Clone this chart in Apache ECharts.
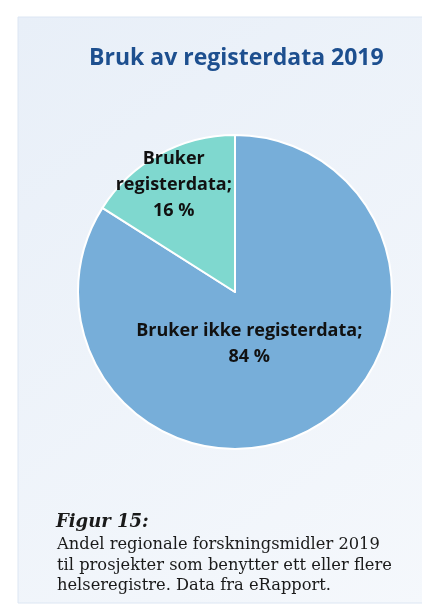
<!DOCTYPE html>
<html>
<head>
<meta charset="utf-8">
<script src="https://cdn.jsdelivr.net/npm/echarts@6/dist/echarts.min.js"></script>
<style>
  html, body { margin: 0; padding: 0; background: #fff; }
  #chart { width: 422px; height: 609px; }
</style>
</head>
<body>
<div id="chart"></div>
<script>
// data
const categories = ['Bruker ikke registerdata', 'Bruker registerdata'];
const shares = [84, 16];
const sliceColors = ['#77aed9', '#7fd8cf'];
const captionLines = [
    'Andel regionale forskningsmidler 2019',
    'til prosjekter som benytter ett eller flere',
    'helseregistre. Data fra eRapport.'
];

const chart = echarts.init(document.getElementById('chart'));

// label nudges so they sit where the original has them
const labelShift = [{dx: -25, dy: -20}, {dx: -22, dy: -36}];

const option = {
    backgroundColor: '#ffffff',
    title: {
        text: 'Bruk av registerdata 2019',
        left: 84,
        top: 42,
        textStyle: {
            color: '#1d4f8f',
            fontFamily: 'Open Sans',
            fontWeight: 'bold',
            fontSize: 23
        }
    },
    graphic: [
        {
            type: 'rect',
            z: -10,
            shape: {x: 18, y: 17, width: 420, height: 586},
            style: {
                fill: new echarts.graphic.LinearGradient(0, 0, 1, 1, [
                    {offset: 0, color: '#e8eff8'},
                    {offset: 1, color: '#f5f8fc'}
                ]),
                stroke: '#dce6f3',
                lineWidth: 1
            }
        },
        {
            type: 'text',
            left: 56,
            top: 513,
            style: {
                text: 'Figur 15:',
                font: 'italic bold 18px "DejaVu Serif"',
                fill: '#1a1a1a'
            }
        },
        {
            type: 'text',
            left: 57,
            top: 535,
            style: {
                text: captionLines.join('\n'),
                font: '16.3px "DejaVu Serif"',
                lineHeight: 20.5,
                fill: '#1a1a1a'
            }
        }
    ],
    series: [
        {
            name: 'Registerdata',
            type: 'pie',
            center: [235, 292],
            radius: 157,
            startAngle: 90,
            clockwise: true,
            silent: true,
            itemStyle: {
                borderColor: '#ffffff',
                borderWidth: 2
            },
            label: {
                position: 'inner',
                color: '#111111',
                fontFamily: 'Open Sans',
                fontWeight: 'bold',
                fontSize: 18,
                lineHeight: 26,
                align: 'center',
                formatter: function (p) {
                    if (p.dataIndex === 1) {
                        return 'Bruker\nregisterdata;\n' + p.value + ' %';
                    }
                    return p.name + ';\n' + p.value + ' %';
                }
            },
            labelLayout: function (params) {
                return labelShift[params.dataIndex];
            },
            data: categories.map(function (c, i) {
                return {name: c, value: shares[i], itemStyle: {color: sliceColors[i]}};
            })
        }
    ]
};

chart.setOption(option);
</script>
</body>
</html>
